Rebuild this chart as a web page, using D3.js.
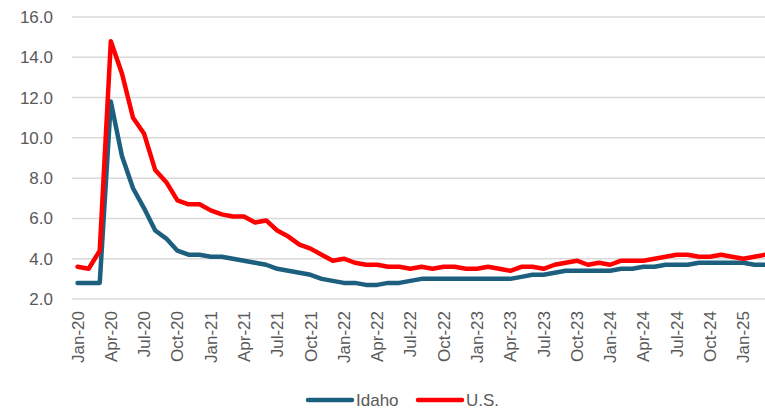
<!DOCTYPE html>
<html>
<head>
<meta charset="utf-8">
<script src="https://cdn.jsdelivr.net/npm/d3@7"></script>
<style>
  html, body { margin: 0; padding: 0; background: #fff; }
  svg { display: block; }
  text { font-family: "Liberation Sans", Arial, sans-serif; fill: #595959; }
</style>
</head>
<body>
<svg id="chart" width="765" height="409"></svg>
<script>
const months = [
  "Jan-20","Feb-20","Mar-20","Apr-20","May-20","Jun-20","Jul-20","Aug-20","Sep-20","Oct-20","Nov-20","Dec-20",
  "Jan-21","Feb-21","Mar-21","Apr-21","May-21","Jun-21","Jul-21","Aug-21","Sep-21","Oct-21","Nov-21","Dec-21",
  "Jan-22","Feb-22","Mar-22","Apr-22","May-22","Jun-22","Jul-22","Aug-22","Sep-22","Oct-22","Nov-22","Dec-22",
  "Jan-23","Feb-23","Mar-23","Apr-23","May-23","Jun-23","Jul-23","Aug-23","Sep-23","Oct-23","Nov-23","Dec-23",
  "Jan-24","Feb-24","Mar-24","Apr-24","May-24","Jun-24","Jul-24","Aug-24","Sep-24","Oct-24","Nov-24","Dec-24",
  "Jan-25","Feb-25","Mar-25"
];
const idaho = [
  2.8,2.8,2.8,11.8,9.1,7.5,6.5,5.4,5.0,4.4,4.2,4.2,
  4.1,4.1,4.0,3.9,3.8,3.7,3.5,3.4,3.3,3.2,3.0,2.9,
  2.8,2.8,2.7,2.7,2.8,2.8,2.9,3.0,3.0,3.0,3.0,3.0,
  3.0,3.0,3.0,3.0,3.1,3.2,3.2,3.3,3.4,3.4,3.4,3.4,
  3.4,3.5,3.5,3.6,3.6,3.7,3.7,3.7,3.8,3.8,3.8,3.8,
  3.8,3.7,3.7
];
const us = [
  3.6,3.5,4.4,14.8,13.2,11.0,10.2,8.4,7.8,6.9,6.7,6.7,
  6.4,6.2,6.1,6.1,5.8,5.9,5.4,5.1,4.7,4.5,4.2,3.9,
  4.0,3.8,3.7,3.7,3.6,3.6,3.5,3.6,3.5,3.6,3.6,3.5,
  3.5,3.6,3.5,3.4,3.6,3.6,3.5,3.7,3.8,3.9,3.7,3.8,
  3.7,3.9,3.9,3.9,4.0,4.1,4.2,4.2,4.1,4.1,4.2,4.1,
  4.0,4.1,4.2
];
const yTicks = [2,4,6,8,10,12,14,16];
const seriesNames = ["Idaho","U.S."];
const seriesColors = ["#1D5F7F","#FF0000"];

const svg = d3.select("#chart");
const mLeft = 72, mRight = 771, mTop = 17, mBottom = 299;

const x = d3.scaleBand().domain(months).range([mLeft, mRight]).paddingInner(0).paddingOuter(0);
const y = d3.scaleLinear().domain([2,16]).range([mBottom, mTop]);

// gridlines
svg.append("g").selectAll("line").data(yTicks).join("line")
  .attr("x1", mLeft).attr("x2", 765)
  .attr("y1", d => y(d)).attr("y2", d => y(d))
  .attr("stroke", "#d9d9d9").attr("stroke-width", 1.5);

// y axis labels
const yAxis = d3.axisLeft(y).tickValues(yTicks).tickFormat(d3.format(".1f")).tickSize(0).tickPadding(0);
const yg = svg.append("g").attr("transform", `translate(${53},0)`).call(yAxis);
yg.select(".domain").remove();
yg.selectAll("text").attr("font-size", 17).style("fill", "#595959")
  .attr("font-family", "Liberation Sans, Arial, sans-serif");

// x axis labels (every 3rd month)
const xTickVals = months.filter((m, i) => i % 3 === 0);
const xAxis = d3.axisBottom(x).tickValues(xTickVals).tickSize(0).tickPadding(0);
const xg = svg.append("g").attr("transform", `translate(0,${mBottom})`).call(xAxis);
xg.select(".domain").remove();
xg.selectAll("text")
  .attr("font-size", 17).style("fill", "#595959")
  .attr("font-family", "Liberation Sans, Arial, sans-serif")
  .attr("text-anchor", "end")
  .attr("y", 0).attr("x", 0).attr("dy", "0.35em")
  .attr("transform", "translate(0,12) rotate(-90)");

// lines
const line = d3.line().x((d, i) => x(months[i]) + x.bandwidth() / 2).y(d => y(d)).curve(d3.curveLinear);
[idaho, us].forEach((s, k) => {
  svg.append("path").datum(s)
    .attr("fill", "none").attr("stroke", seriesColors[k])
    .attr("stroke-width", 4.5).attr("stroke-linejoin", "round").attr("stroke-linecap", "round")
    .attr("d", line);
});

// legend
const legendX = [308, 418];
seriesNames.forEach((n, k) => {
  const g = svg.append("g").attr("transform", `translate(${legendX[k]},400)`);
  g.append("line").attr("x1", 0).attr("x2", 44).attr("y1", 0).attr("y2", 0)
    .attr("stroke", seriesColors[k]).attr("stroke-width", 4.5).attr("stroke-linecap", "round");
  g.append("text").attr("x", 48).attr("y", 0).attr("dy", "0.36em")
    .attr("font-size", 17).text(n);
});
</script>
</body>
</html>
